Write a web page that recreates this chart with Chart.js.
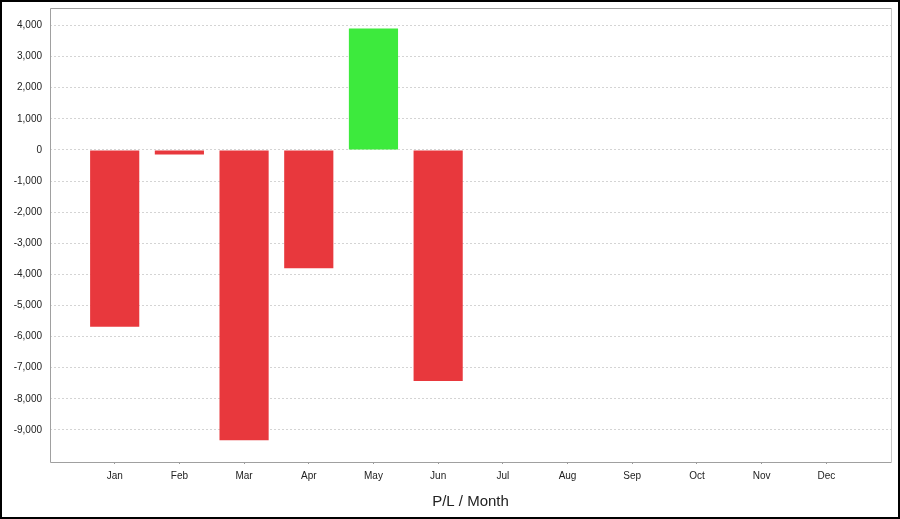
<!DOCTYPE html>
<html>
<head>
<meta charset="utf-8">
<script src="https://cdn.jsdelivr.net/npm/chart.js@4/dist/chart.umd.min.js"></script>
<style>
  body { margin: 0; background: #fff; }
</style>
</head>
<body>
<canvas id="chart" width="900" height="519"></canvas>
<script>
const months = ["Jan", "Feb", "Mar", "Apr", "May", "Jun", "Jul", "Aug", "Sep", "Oct", "Nov", "Dec"];
const profitLoss = [-5680, -150, -9330, -3800, 3900, -7430, null, null, null, null, null, null];
const yTicks = [4000, 3000, 2000, 1000, 0, -1000, -2000, -3000, -4000, -5000, -6000, -7000, -8000, -9000];

const RED = "#e8383d";
const GREEN = "#3dea3d";

// blank slots at both ends give the category margins of the original
const labels = ["", ...months, ""];
const values = [null, ...profitLoss, null];

const framePlugin = {
  id: "frame",
  beforeDraw: (chart) => {
    const ctx = chart.ctx;
    ctx.save();
    ctx.fillStyle = "#fff";
    ctx.fillRect(0, 0, chart.width, chart.height);
    ctx.restore();
  },
  afterDraw: (chart) => {
    const { ctx, chartArea: a } = chart;
    ctx.save();
    ctx.lineWidth = 1;
    ctx.strokeStyle = "#a0a0a0";
    ctx.beginPath();
    ctx.moveTo(a.right + 0.5, a.top + 0.5);
    ctx.lineTo(a.left + 0.5, a.top + 0.5);
    ctx.lineTo(a.left + 0.5, a.bottom + 0.5);
    ctx.lineTo(a.right + 0.5, a.bottom + 0.5);
    ctx.stroke();
    ctx.strokeStyle = "#c8c8c8";
    ctx.beginPath();
    ctx.moveTo(a.right + 0.5, a.top + 0.5);
    ctx.lineTo(a.right + 0.5, a.bottom + 0.5);
    ctx.stroke();
    // outer black frame
    ctx.strokeStyle = "#000";
    ctx.lineWidth = 2;
    ctx.strokeRect(1, 1, chart.width - 2, chart.height - 2);
    ctx.restore();
  },
};

const ctx = document.getElementById("chart").getContext("2d");
const chart = new Chart(ctx, {
  type: "bar",
  data: {
    labels: labels,
    datasets: [
      {
        label: "P/L",
        data: values,
        backgroundColor: (c) => (c.raw >= 0 ? GREEN : RED),
        borderWidth: 0,
        barPercentage: 1,
        categoryPercentage: 0.76,
      },
    ],
  },
  options: {
    responsive: false,
    animation: false,
    layout: { padding: { top: 8, right: 9, left: 0, bottom: 0 } },
    plugins: {
      legend: { display: false },
      tooltip: { enabled: false },
    },
    scales: {
      x: {
        offset: false,
        grid: {
          display: true,
          offset: false,
          drawOnChartArea: false,
          drawTicks: true,
          tickLength: 2,
          color: (c) => (c.tick && c.tick.label ? "#999" : "rgba(0,0,0,0)"),
        },
        border: { display: false },
        ticks: {
          autoSkip: false,
          maxRotation: 0,
          padding: 6,
          color: "#222",
          font: { family: "'Liberation Sans', Arial, sans-serif", size: 10 },
        },
        title: {
          display: true,
          text: "P/L / Month",
          color: "#222",
          padding: { top: 0, bottom: 8 },
          font: { family: "'Liberation Sans', Arial, sans-serif", size: 15 },
        },
        afterFit: (scale) => {
          scale.height = 57;
          scale.paddingLeft = 0;
          scale.paddingRight = 0;
        },
      },
      y: {
        min: -10030,
        max: 4560,
        grid: {
          color: "#d4d4d4",
          drawTicks: false,
        },
        border: { display: false, dash: [2, 2] },
        ticks: {
          stepSize: 1000,
          padding: 8,
          color: "#222",
          font: { family: "'Liberation Sans', Arial, sans-serif", size: 10 },
          callback: (v) => v.toLocaleString("en-US"),
        },
        afterBuildTicks: (scale) => {
          scale.ticks = yTicks.map((v) => ({ value: v }));
        },
        afterFit: (scale) => {
          scale.width = 50;
          scale.paddingTop = 0;
          scale.paddingBottom = 0;
        },
      },
    },
  },
  plugins: [framePlugin],
});
</script>
</body>
</html>
